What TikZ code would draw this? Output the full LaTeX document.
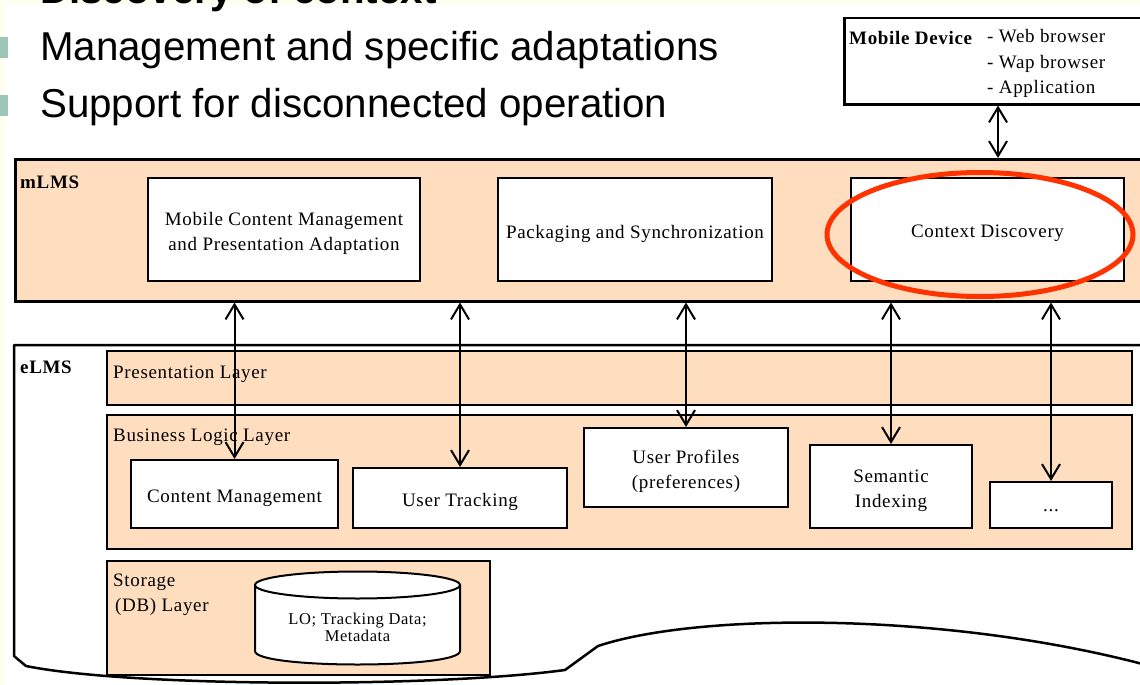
\documentclass[tikz,border=0pt]{standalone}
\usepackage{fontspec}
\setmainfont{Liberation Serif}[LetterSpace=3.5]
\newfontfamily\arialf{Liberation Sans}
\usetikzlibrary{arrows.meta}
\definecolor{peach}{HTML}{FFDEC0}
\definecolor{cream}{HTML}{FFFFF0}
\definecolor{bulletc}{HTML}{9CC6B8}
\definecolor{ringred}{HTML}{FF3300}
\begin{document}
\begin{tikzpicture}[x=1pt,y=-1pt,
  txt/.style={anchor=base west, inner sep=0pt, font=\fontsize{19}{23}\selectfont},
  bold/.style={txt, font=\fontsize{19}{23}\selectfont\bfseries},
  big/.style={anchor=base west, inner sep=0pt, font=\arialf\fontsize{40.3}{48}\selectfont},
  bul/.style={fill=bulletc, inner sep=0pt, minimum width=20pt, minimum height=21pt},
  panel/.style={draw=black, line width=2.5pt, fill=peach, anchor=north west, inner sep=0pt},
  layer/.style={draw=black, line width=2pt, fill=peach, anchor=north west, inner sep=0pt},
  box/.style={draw=black, line width=2pt, fill=white, inner sep=0pt},
  btxt/.style={inner sep=0pt, align=center, yshift=-4pt, font=\fontsize{19}{25}\selectfont},
  dbl/.style={line width=2pt, {Straight Barb[length=15pt,width=18pt]}-{Straight Barb[length=15pt,width=18pt]}}
]
\useasboundingbox (0,0) rectangle (1140,685);
\clip (0,0) rectangle (1140,685);
\fill[cream] (0,0) rectangle (1140,685);
\fill[white] (5,4) rectangle (1140,685);

% slide text
\node[big, font=\arialf\bfseries\fontsize{40.3}{48}\selectfont] (t0) at (40,4) {Discovery of context};
\node[big] (t1) at (40,61) {Management and specific adaptations};
\node[big] (t2) at (40,117) {Support for disconnected operation};
\node[bul] (b1) at (-2,47.5) {};
\node[bul] (b2) at (-2,105.5) {};

% mobile device
\node[panel, fill=white, minimum width=310pt, minimum height=86pt] (md) at (843,17) {};
\node[bold] (mdl) at (849,45) {Mobile Device};
\node[txt] (l1) at (987,43) {- Web browser};
\node[txt] (l2) at (987,68) {- Wap browser};
\node[txt] (l3) at (987,93) {- Application};

% mLMS
\node[panel, minimum width=1140pt, minimum height=142pt] (mlms) at (14,158) {};
\node[bold] (mlmsl) at (20,188) {mLMS};
\node[box, minimum width=272pt, minimum height=103pt] (mcm) at (284,229.5) {};
\node[btxt] (mcmt) at (mcm.center) {Mobile Content Management\\and Presentation Adaptation};
\node[box, minimum width=274pt, minimum height=103pt] (pas) at (635,229.5) {};
\node[btxt] (past) at (pas.center) {Packaging and Synchronization};
\node[box, minimum width=273pt, minimum height=103pt] (cd) at (987.5,229.5) {};
\node[btxt] (cdt) at (cd.center) {Context Discovery};

% eLMS outline
\draw[line width=2.5pt, line join=round] (1150,345) -- (14,345) -- (14,656) -- (26,666)
  .. controls (130,687) and (430,688) .. (565,670) -- (598,646)
  .. controls (700,612) and (950,612) .. (1150,666);
\node[bold] (elmsl) at (20,373) {eLMS};

% layers
\node[layer, minimum width=1025pt, minimum height=54pt] (pres) at (106,350) {};
\node[txt] (presl) at (113,378) {Presentation Layer};
\node[layer, minimum width=1025pt, minimum height=134pt] (bus) at (106,414) {};
\node[txt] (busl) at (113,441) {Business Logic Layer};
\node[layer, minimum width=383pt, minimum height=114pt] (stor) at (106,560) {};
\node[txt] (storl1) at (113,586) {Storage};
\node[txt] (storl2) at (115,611) {(DB) Layer};

% business boxes
\node[box, minimum width=207pt, minimum height=68pt] (cm) at (234.5,494) {};
\node[btxt] (cmt) at (cm.center) {Content Management};
\node[box, minimum width=214pt, minimum height=60pt] (ut) at (460,498) {};
\node[btxt] (utt) at (ut.center) {User Tracking};
\node[box, minimum width=204pt, minimum height=79pt] (up) at (686,467.5) {};
\node[btxt] (upt) at (up.center) {User Profiles\\(preferences)};
\node[box, minimum width=162pt, minimum height=83pt] (si) at (891,486.5) {};
\node[btxt] (sit) at (si.center) {Semantic\\Indexing};
\node[box, minimum width=122pt, minimum height=46pt] (dots) at (1051,505) {};
\node[btxt, yshift=-2pt] (dotst) at (dots.center) {...};

% database cylinder
\draw[line width=2pt, fill=white] (255,585) -- (255,651) .. controls (255,669) and (460,669) .. (460,651) -- (460,585);
\draw[line width=2pt, fill=white] (357.5,585) ellipse [x radius=102.5, y radius=13.5];
\node[inner sep=0pt, align=center, font=\fontsize{16.5}{17}\selectfont] (db) at (357.5,627) {LO; Tracking Data;\\Metadata};

% connectors
\coordinate (mdx) at (998,0);
\draw[dbl] (md.south -| mdx) -- (mlms.north -| mdx);
\draw[dbl] (mlms.south -| cm.north) -- (cm.north);
\draw[dbl] (mlms.south -| ut.north) -- (ut.north);
\draw[dbl] (mlms.south -| up.north) -- (up.north);
\draw[dbl] (mlms.south -| si.north) -- (si.north);
\draw[dbl] (mlms.south -| dots.north) -- (dots.north);

% highlight
\draw[ringred, line width=5pt] (980,234.5) ellipse [x radius=153, y radius=62];
\end{tikzpicture}
\end{document}
